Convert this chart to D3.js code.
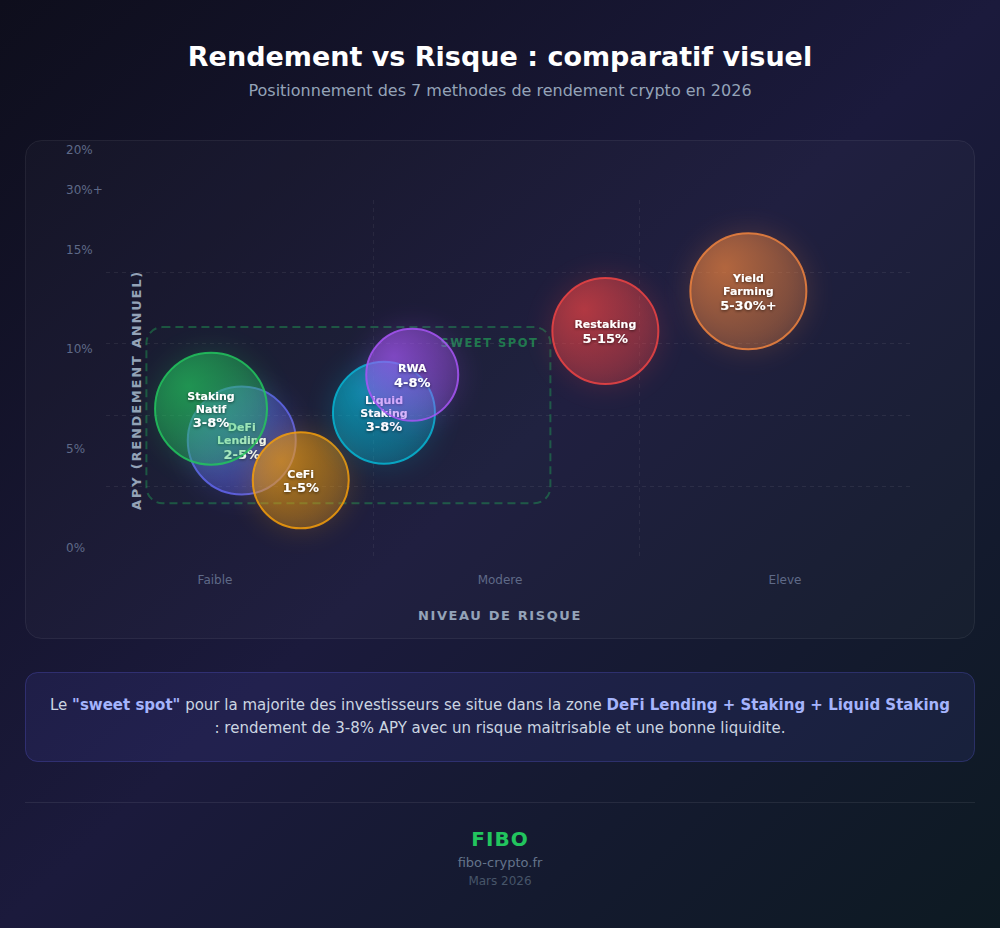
<!DOCTYPE html>
<html>
<head>
<meta charset="utf-8">
<script src="https://cdn.jsdelivr.net/npm/d3@7"></script>
<style>
  html, body { margin: 0; padding: 0; background: #13132a; }
  svg { display: block; font-family: "DejaVu Sans", sans-serif; }
</style>
</head>
<body>
<div id="chart"></div>
<script>
// ---- data ----
// drawing order matters: later bubbles sit on top
var methods = ["DeFi Lending", "Staking Natif", "CeFi", "Liquid Staking", "RWA", "Restaking", "Yield Farming"];
var apyRange = ["2-5%", "3-8%", "1-5%", "3-8%", "4-8%", "5-15%", "5-30%+"];
var riskScore = [16.8, 13.0, 24.1, 34.4, 37.9, 61.8, 79.5];   // 0..100 position on risk axis
var apyPos = [5.4, 7.0, 3.4, 6.8, 8.7, 10.9, 12.9];           // position on APY axis (%)
var bubbleSize = [110, 114, 98, 104, 94, 108, 118];

var riskLevels = ["Faible", "Modere", "Eleve"];
var yTickValues = [0, 5, 10, 15, 18, 20];
var yTickLabels = ["0%", "5%", "10%", "15%", "30%+", "20%"];
var gridFractions = [0.2, 0.4, 0.6, 0.8];
var riskDividers = [33, 66];
var sweetSpotRisk = [5, 55];
var sweetSpotApy = [2.25, 11.1];

var W = 1000, H = 928;

var svg = d3.select("#chart").append("svg")
  .attr("width", W)
  .attr("height", H);

var defs = svg.append("defs");

// page background
var bg = defs.append("linearGradient").attr("id", "bg")
  .attr("x1", "0%").attr("y1", "0%").attr("x2", "100%").attr("y2", "100%");
bg.append("stop").attr("offset", "0%").attr("stop-color", "#0e0e1c");
bg.append("stop").attr("offset", "50%").attr("stop-color", "#1b1a3c");
bg.append("stop").attr("offset", "100%").attr("stop-color", "#0d1a22");

svg.append("rect").attr("width", W).attr("height", H).attr("fill", "url(#bg)");

// colors
var color = d3.scaleOrdinal()
  .domain(methods)
  .range(["#6366f1", "#22c55e", "#f59e0b", "#06b6d4", "#a855f7", "#ef4444", "#f0843e"]);

// title
svg.append("text")
  .attr("x", W / 2).attr("y", 66)
  .attr("text-anchor", "middle")
  .attr("font-size", 27).attr("font-weight", "bold")
  .attr("fill", "#ffffff")
  .text("Rendement vs Risque : comparatif visuel");

svg.append("text")
  .attr("x", W / 2).attr("y", 96)
  .attr("text-anchor", "middle")
  .attr("font-size", 16)
  .attr("fill", "#94a3b8")
  .text("Positionnement des 7 methodes de rendement crypto en 2026");

// chart card
svg.append("rect")
  .attr("x", 25.5).attr("y", 140.5)
  .attr("width", 949).attr("height", 498)
  .attr("rx", 16).attr("ry", 16)
  .attr("fill", "rgba(255,255,255,0.025)")
  .attr("stroke", "rgba(255,255,255,0.07)");

// scales
var plotLeft = 106, plotRight = 914, plotTop = 200, plotBottom = 558;

var xScale = d3.scaleLinear().domain([0, 100]).range([plotLeft, plotRight]);
var yScale = d3.scaleLinear().domain([0, 20]).range([548, 150]);
var frameY = d3.scaleLinear().domain([0, 1]).range([plotTop, plotBottom]);
var rScale = d3.scaleLinear().domain([0, 120]).range([0, 60]);
var xCat = d3.scalePoint().domain(riskLevels).range([215, 785]);

// grid
var grid = svg.append("g").attr("class", "grid");

grid.selectAll("line.h")
  .data(gridFractions)
  .enter()
  .append("line")
  .attr("class", "h")
  .attr("x1", plotLeft).attr("x2", plotRight)
  .attr("y1", function (d) { return Math.round(frameY(d)) + 0.5; })
  .attr("y2", function (d) { return Math.round(frameY(d)) + 0.5; })
  .attr("stroke", "rgba(255,255,255,0.07)")
  .attr("stroke-dasharray", "4,4");

grid.selectAll("line.v")
  .data(riskDividers)
  .enter()
  .append("line")
  .attr("class", "v")
  .attr("x1", function (d) { return Math.round(xScale(d)) + 0.5; })
  .attr("x2", function (d) { return Math.round(xScale(d)) + 0.5; })
  .attr("y1", plotTop).attr("y2", plotBottom)
  .attr("stroke", "rgba(255,255,255,0.06)")
  .attr("stroke-dasharray", "4,4");

// y tick labels
svg.append("g")
  .selectAll("text")
  .data(yTickValues)
  .enter()
  .append("text")
  .attr("x", 66)
  .attr("y", function (d) { return yScale(d); })
  .attr("dy", "0.35em")
  .attr("font-size", 12)
  .attr("fill", "#5f6a88")
  .text(function (d, i) { return yTickLabels[i]; });

// x category labels
svg.append("g")
  .selectAll("text")
  .data(riskLevels)
  .enter()
  .append("text")
  .attr("x", function (d) { return xCat(d); })
  .attr("y", 580)
  .attr("dy", "0.35em")
  .attr("text-anchor", "middle")
  .attr("font-size", 12)
  .attr("fill", "#5f6a88")
  .text(function (d) { return d; });

// axis titles
svg.append("text")
  .attr("x", W / 2).attr("y", 615)
  .attr("dy", "0.35em")
  .attr("text-anchor", "middle")
  .attr("font-size", 13).attr("font-weight", "bold")
  .attr("letter-spacing", 1.6)
  .attr("fill", "#94a3b8")
  .text("NIVEAU DE RISQUE");

svg.append("text")
  .attr("transform", "translate(136,390) rotate(-90)")
  .attr("dy", "0.35em")
  .attr("text-anchor", "middle")
  .attr("font-size", 13).attr("font-weight", "bold")
  .attr("letter-spacing", 1.8)
  .attr("fill", "#94a3b8")
  .text("APY (RENDEMENT ANNUEL)");

// sweet spot zone
svg.append("rect")
  .attr("x", xScale(sweetSpotRisk[0]))
  .attr("y", yScale(sweetSpotApy[1]))
  .attr("width", xScale(sweetSpotRisk[1]) - xScale(sweetSpotRisk[0]))
  .attr("height", yScale(sweetSpotApy[0]) - yScale(sweetSpotApy[1]))
  .attr("rx", 16).attr("ry", 16)
  .attr("fill", "rgba(34,197,94,0.02)")
  .attr("stroke", "rgba(34,197,94,0.35)")
  .attr("stroke-width", 2)
  .attr("stroke-dasharray", "8,5");

svg.append("text")
  .attr("x", xScale(sweetSpotRisk[1]) - 12)
  .attr("y", yScale(sweetSpotApy[1]) + 16)
  .attr("dy", "0.35em")
  .attr("text-anchor", "end")
  .attr("font-size", 11.5).attr("font-weight", "bold")
  .attr("letter-spacing", 1.5)
  .attr("fill", "rgba(34,197,94,0.55)")
  .text("SWEET SPOT");

// bubble defs: glow + radial fill
var glow = defs.append("filter").attr("id", "glow")
  .attr("x", "-50%").attr("y", "-50%").attr("width", "200%").attr("height", "200%");
glow.append("feGaussianBlur").attr("stdDeviation", 12);

var shadow = defs.append("filter").attr("id", "tshadow")
  .attr("x", "-20%").attr("y", "-40%").attr("width", "140%").attr("height", "180%");
shadow.append("feDropShadow")
  .attr("dx", 0).attr("dy", 1).attr("stdDeviation", 1.5)
  .attr("flood-color", "#000").attr("flood-opacity", 0.6);

methods.forEach(function (m, i) {
  var g = defs.append("radialGradient").attr("id", "fill" + i)
    .attr("cx", "30%").attr("cy", "30%").attr("r", "75%");
  g.append("stop").attr("offset", "0%").attr("stop-color", color(m)).attr("stop-opacity", 0.65);
  g.append("stop").attr("offset", "100%").attr("stop-color", color(m)).attr("stop-opacity", 0.3);
});

var bubbleData = methods.map(function (m, i) {
  return { name: m, apy: apyRange[i], risk: riskScore[i], y: apyPos[i], size: bubbleSize[i], idx: i };
});

var bubbles = svg.append("g").attr("class", "bubbles")
  .selectAll("g")
  .data(bubbleData)
  .enter()
  .append("g")
  .attr("transform", function (d) {
    return "translate(" + xScale(d.risk) + "," + yScale(d.y) + ")";
  });

bubbles.append("circle")
  .attr("r", function (d) { return rScale(d.size) + 4; })
  .attr("fill", function (d) { return color(d.name); })
  .attr("opacity", 0.15)
  .attr("filter", "url(#glow)");

bubbles.append("circle")
  .attr("r", function (d) { return rScale(d.size) - 1; })
  .attr("fill", function (d) { return "url(#fill" + d.idx + ")"; })
  .attr("stroke", function (d) { return color(d.name); })
  .attr("stroke-opacity", 0.85)
  .attr("stroke-width", 2);

var labels = bubbles.append("text")
  .attr("text-anchor", "middle")
  .attr("fill", "#ffffff")
  .attr("font-weight", "bold")
  .attr("filter", "url(#tshadow)");

labels.each(function (d) {
  var words = d.name.split(" ");
  var lineH = 13;
  var total = words.length + 1;
  var start = -((total - 1) * lineH) / 2;
  var t = d3.select(this);
  words.forEach(function (w, k) {
    t.append("tspan")
      .attr("x", 0)
      .attr("y", start + k * lineH)
      .attr("dy", "0.35em")
      .attr("font-size", 11)
      .text(w);
  });
  t.append("tspan")
    .attr("x", 0)
    .attr("y", start + words.length * lineH + 1)
    .attr("dy", "0.35em")
    .attr("font-size", 13)
    .text(d.apy);
});

// note box
svg.append("rect")
  .attr("x", 25.5).attr("y", 672.5)
  .attr("width", 949).attr("height", 89)
  .attr("rx", 12).attr("ry", 12)
  .attr("fill", "rgba(99,102,241,0.10)")
  .attr("stroke", "rgba(99,102,241,0.28)");

var note1 = svg.append("text")
  .attr("x", W / 2).attr("y", 705)
  .attr("dy", "0.35em")
  .attr("text-anchor", "middle")
  .attr("font-size", 15)
  .attr("fill", "#cbd5e1");
note1.append("tspan").text("Le ");
note1.append("tspan").attr("font-weight", "bold").attr("fill", "#a5b4fc").text("\"sweet spot\"");
note1.append("tspan").text(" pour la majorite des investisseurs se situe dans la zone ");
note1.append("tspan").attr("font-weight", "bold").attr("fill", "#a5b4fc").text("DeFi Lending + Staking + Liquid Staking");

svg.append("text")
  .attr("x", W / 2).attr("y", 728)
  .attr("dy", "0.35em")
  .attr("text-anchor", "middle")
  .attr("font-size", 15)
  .attr("fill", "#cbd5e1")
  .text(": rendement de 3-8% APY avec un risque maitrisable et une bonne liquidite.");

// footer
svg.append("line")
  .attr("x1", 25).attr("x2", 975)
  .attr("y1", 802.5).attr("y2", 802.5)
  .attr("stroke", "rgba(255,255,255,0.08)");

svg.append("text")
  .attr("x", W / 2).attr("y", 839)
  .attr("dy", "0.35em")
  .attr("text-anchor", "middle")
  .attr("font-size", 20).attr("font-weight", "bold")
  .attr("letter-spacing", 1)
  .attr("fill", "#22c55e")
  .text("FIBO");

svg.append("text")
  .attr("x", W / 2).attr("y", 862)
  .attr("dy", "0.35em")
  .attr("text-anchor", "middle")
  .attr("font-size", 13)
  .attr("fill", "#64748b")
  .text("fibo-crypto.fr");

svg.append("text")
  .attr("x", W / 2).attr("y", 881)
  .attr("dy", "0.35em")
  .attr("text-anchor", "middle")
  .attr("font-size", 12)
  .attr("fill", "#475569")
  .text("Mars 2026");
</script>
</body>
</html>
